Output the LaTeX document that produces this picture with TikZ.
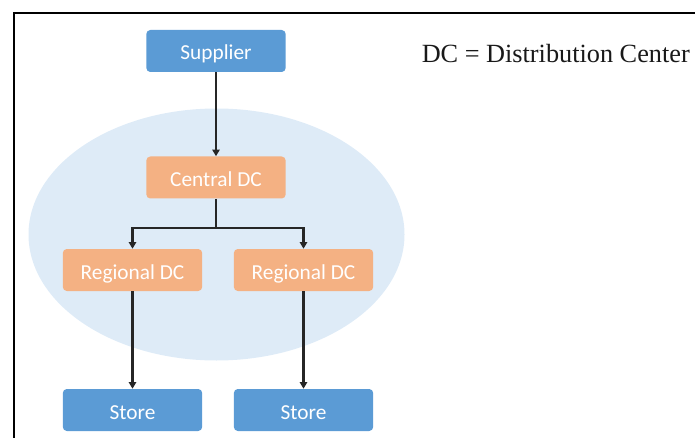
\documentclass[tikz,border=0pt]{standalone}
\usepackage{fontspec}
\setmainfont{Liberation Serif}
\newfontfamily\boxfont{Carlito}
\usetikzlibrary{arrows.meta}
\definecolor{bluebox}{HTML}{5B9BD5}
\definecolor{orangebox}{HTML}{F4B183}
\definecolor{zone}{HTML}{DEEBF7}
\tikzset{
  box/.style={rounded corners=3pt, minimum width=104.5pt, minimum height=31.5pt,
    inner sep=0pt, text=white, text height=15.5pt, text depth=2pt,
    font=\boxfont\fontsize{16}{19}\selectfont},
  bluenode/.style={box, fill=bluebox},
  orangenode/.style={box, fill=orangebox},
  link/.style={draw=black!85, line width=1.7pt, -{Triangle[length=5pt,width=5.5pt]}},
}
\begin{document}
\begin{tikzpicture}[x=0.75pt, y=-0.75pt]
  \useasboundingbox (0,0) rectangle (695,438);
  % frame on the top and left
  \draw[line width=1.2pt] (14,438) -- (14,13) -- (695,13);
  % distribution zone
  \fill[zone] (216.5,234.5) ellipse [x radius=188, y radius=126];
  % nodes
  \node[bluenode] (sup) at (216,51) {Supplier};
  \node[orangenode] (cdc) at (216,177.5) {Central DC};
  \node[orangenode] (rdcl) at (132.5,270) {Regional DC};
  \node[orangenode] (rdcr) at (303.5,270) {Regional DC};
  \node[bluenode] (stl) at (132.5,410) {Store};
  \node[bluenode] (str) at (303.5,410) {Store};
  \coordinate (split) at (216,228);
  % connectors
  \draw[link] (sup) -- (cdc);
  \draw[link] (cdc.south) -- (split) -| (rdcl.north);
  \draw[link] (split) -| (rdcr.north);
  \draw[link] (rdcl) -- (stl);
  \draw[link] (rdcr) -- (str);
  % legend
  \node[anchor=base west, inner sep=0pt, text=black!90, font=\fontsize{19.7}{23}\selectfont] (legend) at (421.5,63) {DC = Distribution Center};
\end{tikzpicture}
\end{document}
